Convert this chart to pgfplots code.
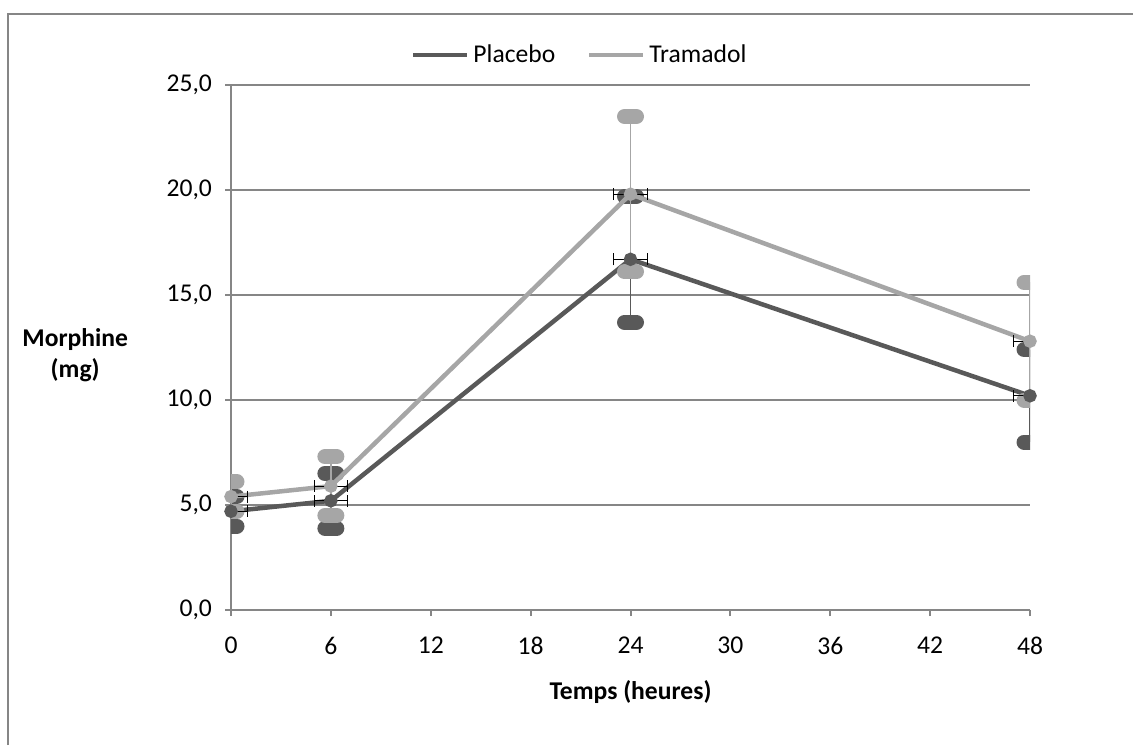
\documentclass[border=0pt]{standalone}
\usepackage{fontspec}
\setmainfont{Carlito}
\usepackage{pgfplots}
\usepackage{pgfplotstable}
\pgfplotsset{compat=1.18}

\definecolor{placebo}{RGB}{89,89,89}
\definecolor{tramadol}{RGB}{166,166,166}
\definecolor{gridc}{RGB}{134,134,134}

% x, mean, sd (y), x spread
\pgfplotstableread{
x  y    ey   ex
0  4.7  0.7  1.0
6  5.2  1.3  1.0
24 16.7 3.0  1.0
48 10.2 2.2  1.0
}\placebo
\pgfplotstableread{
x  y    ey   ex
0  5.4  0.7  1.0
6  5.9  1.4  1.0
24 19.8 3.7  1.0
48 12.8 2.8  1.0
}\tramadol

\begin{document}
\begin{tikzpicture}[font=\fontsize{12.8}{15.4}\selectfont]
\useasboundingbox (0,0) rectangle (566.5pt,372.5pt);
\draw[gridc, line width=1pt] (4pt,0pt) -- (4pt,365.5pt) -- (566.5pt,365.5pt);
\begin{axis}[
    at={(115.5pt,67.5pt)}, anchor=south west,
    scale only axis, width=399.5pt, height=262.5pt,
    xmin=0, xmax=48, ymin=0, ymax=25,
    xtick={0,6,...,48}, ytick={0,5,...,25},
    axis x line*=bottom, axis y line*=left,
    axis line style={gridc, line width=1pt},
    tick style={gridc, line width=1pt},
    tick align=outside, major tick length=3pt,
    ymajorgrids, grid style={gridc, line width=1pt},
    /pgf/number format/assume math mode=true,
    yticklabel style={/pgf/number format/fixed, /pgf/number format/fixed zerofill,
        /pgf/number format/precision=1, /pgf/number format/use comma, xshift=-3pt},
    xticklabel style={yshift=-7pt},
    xlabel={\bfseries Temps (heures)},
    xlabel style={at={(rel axis cs:0.5,-0.156)}, anchor=center},
    ylabel={\bfseries Morphine\\\bfseries (mg)},
    ylabel style={at={(rel axis cs:-0.195,0.486)}, rotate=-90, anchor=center, align=center},
    legend columns=2,
    legend style={draw=none, fill=none, at={(0.438,1.057)}, anchor=center,
        /tikz/every even column/.append style={column sep=14pt}},
    legend image code/.code={\draw[#1, line width=2pt] (0pt,0pt) -- (27pt,0pt);},
]
\addplot[placebo, line width=2.25pt, mark=*, mark size=2.2pt,
    error bars/.cd, y dir=both, y explicit, error mark=|,
    error bar style={placebo, line width=0.75pt},
    error mark options={placebo, line width=7.5pt, line cap=round, mark size=3pt}]
    table[x=x, y=y, y error=ey] {\placebo};
\addlegendentry{Placebo}
\addplot[tramadol, line width=2.25pt, mark=*, mark size=2.2pt,
    error bars/.cd, y dir=both, y explicit, error mark=|,
    error bar style={tramadol, line width=0.75pt},
    error mark options={tramadol, line width=7.5pt, line cap=round, mark size=3pt}]
    table[x=x, y=y, y error=ey] {\tramadol};
\addlegendentry{Tramadol}
\addplot[draw=none, forget plot,
    error bars/.cd, x dir=both, x explicit, error mark=|,
    error bar style={black, line width=0.6pt},
    error mark options={black, line width=0.6pt, mark size=3pt}]
    table[x=x, y=y, x error=ex] {\placebo};
\addplot[draw=none, forget plot,
    error bars/.cd, x dir=both, x explicit, error mark=|,
    error bar style={black, line width=0.6pt},
    error mark options={black, line width=0.6pt, mark size=3pt}]
    table[x=x, y=y, x error=ex] {\tramadol};
\end{axis}
\end{tikzpicture}
\end{document}
